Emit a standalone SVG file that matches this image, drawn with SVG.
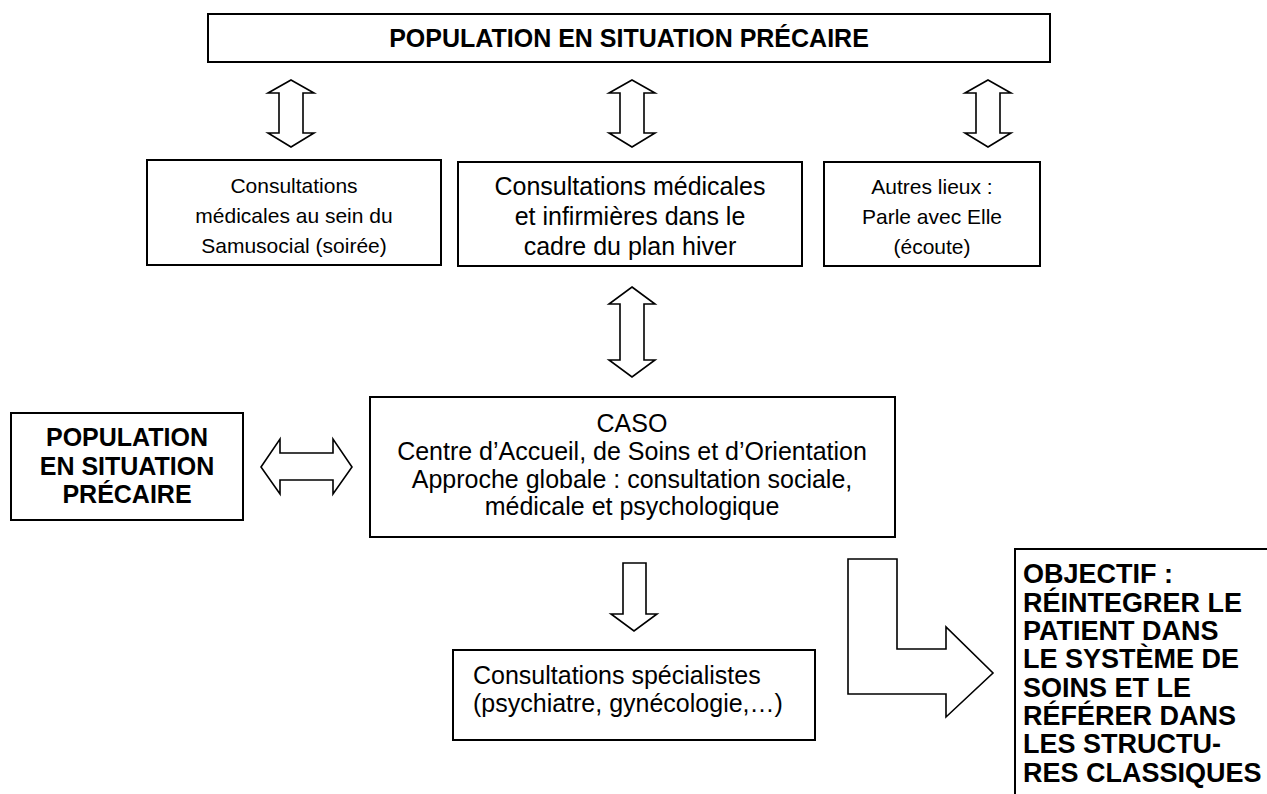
<svg xmlns="http://www.w3.org/2000/svg" width="1267" height="794" viewBox="0 0 1267 794">
<style>
.box{fill:#fff;stroke:#000;stroke-width:2}
.arr{fill:#fff;stroke:#000;stroke-width:1.6;stroke-linejoin:miter}
.t{font-family:"Liberation Sans",Arial,sans-serif;font-size:21px;fill:#000}
.c{text-anchor:middle}
.b{font-weight:bold}
.l{font-size:25px}
.o{font-size:27px}
</style>
<rect width="1267" height="794" fill="#fff"/>
<g id="connectors">
<path class="arr" d="M291,80 L314,93 L303,93 L303,133 L314,133 L291,147 L268,133 L279,133 L279,93 L268,93 Z"/>
<path class="arr" d="M632,80 L655,93 L644,93 L644,133 L655,133 L632,147 L609,133 L620,133 L620,93 L609,93 Z"/>
<path class="arr" d="M988,80 L1011,93 L1000,93 L1000,133 L1011,133 L988,147 L965,133 L976,133 L976,93 L965,93 Z"/>
<path class="arr" d="M632,287 L655,304 L644,304 L644,360 L655,360 L632,377 L609,360 L620,360 L620,304 L609,304 Z"/>
<path class="arr" d="M261,467 L280,439 L280,453 L333,453 L333,439 L352,467 L333,494 L333,480 L280,480 L280,494 Z"/>
<path class="arr" d="M623,563 L646,563 L646,614 L657,614 L634,631 L611,614 L623,614 Z"/>
<path class="arr" d="M848,559 L897,559 L897,649 L946,649 L946,627 L993,673 L946,717 L946,694 L848,694 Z"/>
</g>
<g id="top">
<rect class="box" x="208" y="14" width="842" height="48"/>
<text class="t b c l" x="629" y="47">POPULATION EN SITUATION PRÉCAIRE</text>
</g>
<g id="n1">
<rect class="box" x="147" y="160" width="294" height="105"/>
<text class="t c" x="294" y="193">Consultations</text>
<text class="t c" x="294" y="223">médicales au sein du</text>
<text class="t c" x="294" y="253">Samusocial (soirée)</text>
</g>
<g id="n2">
<rect class="box" x="458" y="162" width="344" height="104"/>
<text class="t c l" x="630" y="195">Consultations médicales</text>
<text class="t c l" x="630" y="225">et infirmières dans le</text>
<text class="t c l" x="630" y="255">cadre du plan hiver</text>
</g>
<g id="n3">
<rect class="box" x="824" y="162" width="216" height="104"/>
<text class="t c" x="932" y="194">Autres lieux :</text>
<text class="t c" x="932" y="224">Parle avec Elle</text>
<text class="t c" x="932" y="254">(écoute)</text>
</g>
<g id="left">
<rect class="box" x="11" y="413" width="232" height="107"/>
<text class="t b c l" x="127" y="446">POPULATION</text>
<text class="t b c l" x="127" y="475">EN SITUATION</text>
<text class="t b c l" x="127" y="503">PRÉCAIRE</text>
</g>
<g id="caso">
<rect class="box" x="370" y="397" width="525" height="140"/>
<text class="t c l" x="632" y="432">CASO</text>
<text class="t c l" x="632" y="460">Centre d’Accueil, de Soins et d’Orientation</text>
<text class="t c l" x="632" y="488">Approche globale : consultation sociale,</text>
<text class="t c l" x="632" y="515">médicale et psychologique</text>
</g>
<g id="spec">
<rect class="box" x="453" y="650" width="362" height="90"/>
<text class="t l" x="473" y="684">Consultations spécialistes</text>
<text class="t l" x="473" y="712">(psychiatre, gynécologie,…)</text>
</g>
<g id="obj">
<path class="box" d="M1015,794 L1015,549 L1268,549" fill="none"/>
<text class="t b o" x="1023" y="583">OBJECTIF :</text>
<text class="t b o" x="1023" y="612">RÉINTEGRER LE</text>
<text class="t b o" x="1023" y="640">PATIENT DANS</text>
<text class="t b o" x="1023" y="668">LE SYSTÈME DE</text>
<text class="t b o" x="1023" y="697">SOINS ET LE</text>
<text class="t b o" x="1023" y="725">RÉFÉRER DANS</text>
<text class="t b o" x="1023" y="753">LES STRUCTU-</text>
<text class="t b o" x="1023" y="782">RES CLASSIQUES</text>
</g>
</svg>
